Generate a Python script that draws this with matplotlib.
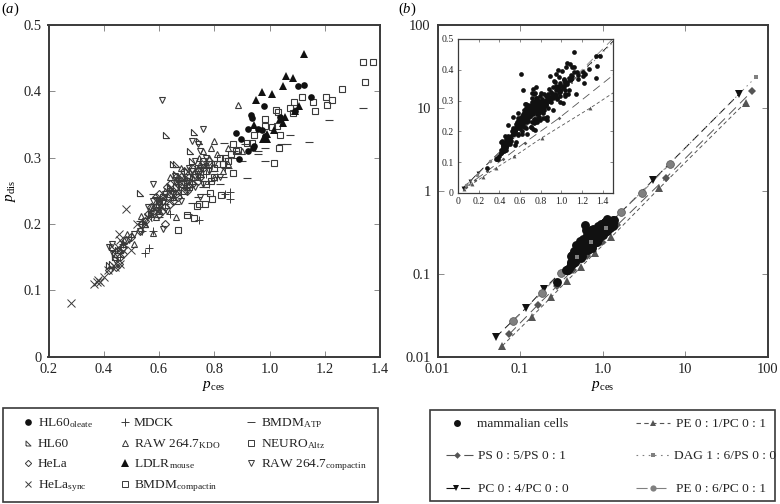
import matplotlib
matplotlib.use('Agg')
import matplotlib.pyplot as plt
from matplotlib.patches import Rectangle

plt.rcParams['font.family'] = ['Liberation Serif', 'DejaVu Serif']
plt.rcParams['mathtext.fontset'] = 'custom'
plt.rcParams['mathtext.rm'] = 'Liberation Serif'
plt.rcParams['mathtext.it'] = 'Liberation Serif:italic'
plt.rcParams['mathtext.bf'] = 'Liberation Serif:bold'

# panel (a), one (p_ces, p_dis) list per cell type
hl60_oleate = [(1.125,.41),(1.102,.4085),(1.149,.3915),(.979,.3775),(.932,.3635),(.936,.359),(.921,.3435),
    (.96,.3435),(.972,.3415),(.879,.3375),(.896,.3285),(.942,.315),(.944,.3175),(.921,.3095),(.889,.298),
    (1.038,.3615),(1.093,.37),(.984,.3325)]
hl60 = [(.53,.2465),(.625,.334),(.725,.3385),(.713,.31),(.66,.29),(.65,.29),(.42,.138),(.43,.14),(.44,.155),
    (.45,.16),(.46,.16),(.43,.165),(.44,.15),(.55,.2),(.57,.215),(.6,.23),(.64,.255),(.68,.27),(.7,.28),
    (.66,.275),(.72,.295),(.743,.325)]
hela = [(.42,.13),(.445,.135),(.455,.14),(.46,.15),(.47,.155),(.47,.165),(.48,.175),(.5,.18),(.53,.19),(.54,.2),
    (.55,.205),(.56,.215),(.58,.22),(.59,.225),(.6,.215),(.61,.235),(.62,.2),(.62,.225),(.63,.24),(.64,.23),
    (.65,.25),(.66,.245),(.67,.26),(.68,.255),(.7,.265),(.71,.27),(.72,.26),(.73,.275),(.74,.28),(.75,.27),
    (.57,.225),(.59,.24),(.6,.245),(.61,.22),(.63,.255),(.64,.26),(.66,.27),(.68,.27),(.69,.28),(.7,.25),
    (.72,.285),(.74,.265),(.76,.285),(.78,.295),(.67,.24),(.65,.235)]
hela_sync = [(.28,.08),(.365,.11),(.375,.112),(.38,.115),(.40,.12),(.415,.13),(.44,.135),(.455,.185),(.48,.222),
    (.50,.16),(.46,.14),(.385,.112),(.46,.175),(.52,.20),(.45,.165),(.47,.17),(.56,.21),(.6,.235),(.62,.24)]
mdck = [(.857,.2375),(.857,.2475),(.84,.245),(.746,.2055),(.562,.164),(.55,.156),(.58,.19),(.6,.225),(.62,.23),
    (.65,.24),(.68,.245),(.7,.255),(.72,.26),(.75,.27),(.78,.26),(.81,.27),(.57,.21),(.54,.19),(.5,.18),
    (.47,.17),(.46,.15),(.64,.215),(.77,.275),(.84,.285),(.63,.25)]
raw_kdo = [(.886,.38),(.80,.325),(.79,.315),(.76,.31),(.745,.30),(.85,.315),(.81,.305),(.57,.215),(.58,.187),
    (.46,.16),(.475,.175),(.485,.185),(.51,.17),(.535,.212),(.55,.2),(.58,.225),(.6,.235),(.66,.21),(.65,.24),
    (.67,.25),(.71,.26),(.69,.27),(.74,.285),(.77,.29),(.8,.27),(.83,.28),(.85,.29),(.9,.31),(.66,.265),
    (.62,.25),(.64,.27),(.68,.285),(.72,.27),(.75,.29),(.78,.3),(.6,.22),(.59,.21)]
ldlr_mouse = [(1.125,.457),(1.059,.4225),(1.084,.42),(1.048,.4085),(.972,.3985),(1.008,.396),(.95,.3865),
    (1.105,.3785),(1.093,.371),(1.056,.3615),(1.038,.3585),(1.05,.3525),(.944,.349),(1.017,.3415),(.99,.335),
    (.978,.3275),(.99,.3285)]
bmdm_compactin = [(1.338,.4435),(1.374,.4445),(1.346,.4135),(1.264,.4035),(1.205,.3915),(1.225,.3875),(1.207,.3795),
    (1.166,.3705),(1.157,.384),(1.118,.3915),(1.09,.384),(1.075,.375),(1.084,.3675),(1.023,.3715),(1.03,.3685),
    (.985,.3585),(.982,.3475),(1.008,.3465),(1.026,.3475),(.944,.3335),(1.038,.3335),(1.034,.314),(1.018,.2925),
    (.869,.321),(.92,.3225),(.936,.3215),(.887,.311),(.867,.2775)]
bmdm_atp = [(1.338,.3745),(1.216,.357),(1.143,.323),(1.075,.3335),(1.062,.3205),(1.04,.32),(.984,.314),(.984,.295),
    (.96,.305),(.918,.269),(.9,.295),(.87,.31),(.836,.3225),(.91,.32),(.88,.30),(.85,.285),(.83,.27),(.79,.265),
    (.77,.245),(.72,.232),(.705,.215),(.66,.23),(.59,.24),(.58,.245),(.575,.23),(.6,.21),(.54,.2),(.53,.205),
    (.85,.3),(.82,.26),(.76,.255),(.8,.28),(.74,.24),(.96,.31)]
neuro_altz = [(.668,.191),(.703,.214),(.725,.209),(.768,.23),(.746,.23),(.737,.2265),(.791,.238),(.826,.243),(.783,.246),
    (.6,.235),(.615,.24),(.64,.245),(.66,.255),(.68,.26),(.7,.27),(.72,.28),(.74,.285),(.76,.295),(.78,.29),
    (.8,.285),(.82,.3),(.84,.3),(.86,.305),(.88,.31),(.8,.27),(.79,.265),(.77,.26),(.75,.275),
    (.71,.255),(.73,.27),(.77,.28),(.81,.29),(.83,.29),(.69,.25),(.85,.295)]
raw_compactin = [(.6125,.3865),(.758,.3435),(.72,.325),(.74,.32),(.75,.31),(.77,.29),(.616,.192),(.58,.26),(.66,.262),
    (.658,.2725),(.7,.265),(.72,.28),(.74,.27),(.76,.26),(.78,.28),(.8,.29),(.82,.27),(.7,.25),(.65,.245),(.6,.23),
    (.57,.215),(.55,.205),(.53,.19),(.51,.185),(.49,.175),(.47,.16),(.43,.17),(.42,.165),(.435,.155),(.44,.145),
    (.63,.22),(.73,.255),(.75,.24),(.68,.235),(.62,.245),(.64,.25),(.67,.265),(.69,.26),(.71,.285),(.73,.295),
    (.75,.28),(.77,.3),(.6,.22),(.56,.225),(.58,.235)]

# panel (b), model lines
pc04 = [(.051,.0172),(.117,.038),(.197,.0658),(4.12,1.35),(45.3,14.7)]
ps05 = [(.0738,.0185),(.164,.0418),(.281,.0708),(.436,.11),(.644,.163),(.977,.243),(1.51,.385),(5.87,1.43),(64.6,15.8)]
pe01 = [(.0612,.0135),(.139,.0302),(.238,.0518),(.369,.0815),(.545,.119),(.811,.179),(1.28,.276),(4.87,1.07),(54.2,11.6)]
dag16 = [(.487,.16),(.731,.239),(1.1,.358),(71.6,23.3)]
pe06 = [(.0818,.0268),(.184,.0588),(.314,.103),(1.67,.558),(2.98,.947),(6.56,2.1)]

x_ticks_a = [0.2, 0.4, 0.6, 0.8, 1.0, 1.2, 1.4]
y_ticks_a = [0, 0.1, 0.2, 0.3, 0.4, 0.5]
ticks_b = [0.01, 0.1, 1, 10, 100]
x_labels_b = ['0.01', '0.1', '1.0', '10', '100']
y_labels_b = ['0.01', '0.1', '1', '10', '100']
x_ticks_inset = [0, 0.2, 0.4, 0.6, 0.8, 1.0, 1.2, 1.4]
y_ticks_inset = [0, 0.1, 0.2, 0.3, 0.4, 0.5]

W, H = 780.0, 504.0
DARK = '#3a3a3a'
right_tri = [(-1, -1), (1, -1), (-1, 1), (-1, -1)]


def px_axes(left, top, right, bottom):
    return fig.add_axes([left / W, 1 - bottom / H, (right - left) / W, (bottom - top) / H])


def style(ax, width=1.4, size=4, labelsize=10.4):
    for s in ax.spines.values():
        s.set_linewidth(width)
        s.set_color(DARK)
    ax.tick_params(which='both', direction='in', top=True, right=True, length=size, width=0.6,
                   color='#777777', labelsize=labelsize, pad=5, labelcolor='#222222')
    ax.minorticks_off()


def xs(p):
    return [v[0] for v in p]


def ys(p):
    return [v[1] for v in p]


fig = plt.figure(figsize=(7.8, 5.04), dpi=100)

# (a)
ax = px_axes(48.5, 25, 380, 356.5)
open_style = dict(linestyle='none', markerfacecolor='none', markeredgecolor=DARK, markeredgewidth=0.8, markersize=4.8)
for pts, m in [(bmdm_compactin, 's'), (neuro_altz, 's'), (raw_compactin, 'v'), (raw_kdo, '^'), (hl60, right_tri), (hela, 'D')]:
    kw = dict(open_style)
    if m == 'D':
        kw['markersize'] = 3.8
    if m is right_tri:
        kw['markersize'] = 4.4
    ax.plot(xs(pts), ys(pts), marker=m, **kw)
ax.plot(xs(hela_sync), ys(hela_sync), 'x', color=DARK, mew=0.7, ms=5.5)
ax.plot(xs(mdck), ys(mdck), '+', color=DARK, mew=0.7, ms=5.5)
ax.plot(xs(bmdm_atp), ys(bmdm_atp), '_', color=DARK, mew=0.8, ms=5.5)
ax.plot(xs(hl60_oleate), ys(hl60_oleate), 'o', color='#111111', ms=4.8, mew=0)
ax.plot(xs(ldlr_mouse), ys(ldlr_mouse), '^', color='#111111', ms=5.4, mew=0)
ax.set_xlim(0.2, 1.4)
ax.set_ylim(0, 0.5)
ax.set_xticks(x_ticks_a)
ax.set_xticklabels(['%.1f' % t for t in x_ticks_a])
ax.set_yticks(y_ticks_a)
ax.set_yticklabels(['0', '0.1', '0.2', '0.3', '0.4', '0.5'])
style(ax)
ax.set_xlabel(r'$p_{\mathrm{ces}}$', fontsize=11, labelpad=2)
ax.set_ylabel(r'$p_{\mathrm{dis}}$', fontsize=11, labelpad=4)
fig.text(1 / W, 1 - 13 / H, '($a$)', fontsize=10.5, va='baseline')

# all cells together for (b)
all_cells = hl60_oleate + hl60 + hela + hela_sync + mdck + raw_kdo + ldlr_mouse + bmdm_compactin + bmdm_atp + neuro_altz + raw_compactin

line_series = [
    (pc04, 'v', '#111111', (8, 5), 'PC 0 : 4/PC 0 : 0', 6.2),
    (ps05, 'D', '#555555', (10, 6), 'PS 0 : 5/PS 0 : 1', 4.2),
    (pe01, '^', '#555555', (4, 3), 'PE 0 : 1/PC 0 : 1', 6.2),
    (dag16, 's', '#808080', (1.5, 4), 'DAG 1 : 6/PS 0 : 0', 3.4),
    (pe06, 'o', '#808080', (10, 7), 'PE 0 : 6/PC 0 : 1', 5.6),
]

# (b)
bx = px_axes(437.5, 25, 767.5, 356.5)
for pts, m, c, d, lab, ms in line_series:
    bx.plot(xs(pts), ys(pts), color=c, lw=0.7, dashes=d, zorder=2)
    if m == 's':
        bx.plot(xs(pts), ys(pts), m, color=c, ms=ms, mew=0, zorder=4)
    elif m == 'o':
        bx.plot(xs(pts), ys(pts), m, color=c, ms=ms, mew=0.5, mec='#555555', zorder=2.5)
    else:
        bx.plot(xs(pts), ys(pts), m, color=c, ms=ms, mew=0, zorder=2.5)
bx.plot(xs(all_cells), ys(all_cells), 'o', color='#111111', ms=6.4, mew=0, zorder=3)
bx.set_xscale('log')
bx.set_yscale('log')
bx.set_xlim(0.01, 100)
bx.set_ylim(0.01, 100)
bx.set_xticks(ticks_b)
bx.set_xticklabels(x_labels_b)
bx.set_yticks(ticks_b)
bx.set_yticklabels(y_labels_b)
style(bx)
bx.set_xlabel(r'$p_{\mathrm{ces}}$', fontsize=11, labelpad=2)
fig.text(398 / W, 1 - 13 / H, '($b$)', fontsize=10.5, va='baseline')

# inset
ix = px_axes(458, 39, 613, 193)
for pts, m, c, d, lab, ms in line_series:
    ix.plot(xs(pts), ys(pts), color=c, lw=0.6, dashes=d)
    ix.plot(xs(pts), ys(pts), m, color=c, ms=ms * 0.45, mew=0)
ix.plot(xs(all_cells), ys(all_cells), 'o', color='#111111', ms=3.4, mew=0)
ix.set_xlim(0, 1.5)
ix.set_ylim(0, 0.5)
ix.set_xticks(x_ticks_inset)
ix.set_xticklabels(['0', '0.2', '0.4', '0.6', '0.8', '1.0', '1.2', '1.4'])
ix.set_yticks(y_ticks_inset)
ix.set_yticklabels(['0', '0.1', '0.2', '0.3', '0.4', '0.5'])
style(ix, width=0.9, size=2.5, labelsize=7)
ix.tick_params(pad=3)

# legend boxes, pixel coordinates of the picture
lx = fig.add_axes([0, 0, 1, 1])
lx.set_xlim(0, W)
lx.set_ylim(H, 0)
lx.axis('off')
lx.patch.set_alpha(0)
lx.add_patch(Rectangle((3, 408), 375, 94, fill=False, edgecolor=DARK, linewidth=1.2))
lx.add_patch(Rectangle((430, 410), 345, 91, fill=False, edgecolor=DARK, linewidth=1.2))

legend_a = [
    (28, 37.5, 422, 'o', True, 4.8, 'HL60$_{\\mathrm{oleate}}$'),
    (28, 37.5, 443, right_tri, False, 3.6, 'HL60'),
    (28, 37.5, 463, 'D', False, 3.2, 'HeLa'),
    (28, 37.5, 484, 'x', False, 5, 'HeLa$_{\\mathrm{sync}}$'),
    (125, 134, 422, '+', False, 5.5, 'MDCK'),
    (125, 134, 443, '^', False, 4.4, 'RAW 264.7$_{\\mathrm{KDO}}$'),
    (125, 134, 463, '^', True, 5.2, 'LDLR$_{\\mathrm{mouse}}$'),
    (125, 134, 484, 's', False, 4.2, 'BMDM$_{\\mathrm{compactin}}$'),
    (251, 261, 422, '_', False, 5.5, 'BMDM$_{\\mathrm{ATP}}$'),
    (251, 261, 443, 's', False, 4.2, 'NEURO$_{\\mathrm{Altz}}$'),
    (251, 261, 463, 'v', False, 4.4, 'RAW 264.7$_{\\mathrm{compactin}}$'),
]
for mx, tx, y, m, filled, ms, lab in legend_a:
    if filled:
        lx.plot([mx], [y], m, color='#111111', ms=ms, mew=0)
    else:
        lx.plot([mx], [y], marker=m, linestyle='none', mfc='none', mec=DARK, mew=0.7, ms=ms, color=DARK)
    lx.text(tx, y + 4, lab, fontsize=9.6, va='baseline', color='#222222')

lx.plot([457], [423], 'o', color='#111111', ms=5, mew=0)
lx.text(477, 427, 'mammalian cells', fontsize=9.6, va='baseline', color='#222222')
legend_b = [
    (446, 473, 457, 478, 455, line_series[1]),
    (446, 473, 456, 478, 488, line_series[0]),
    (636, 670, 653, 676, 423, line_series[2]),
    (636, 670, 653, 674, 455, line_series[3]),
    (636, 670, 653, 676, 488, line_series[4]),
]
for x0, x1, mx, tx, y, (pts, m, c, d, lab, ms) in legend_b:
    lx.plot([x0, x1], [y, y], color=c, lw=0.8, dashes=d)
    lx.plot([mx], [y], m, color=c, ms=ms * 0.8, mew=0)
    lx.text(tx, y + 4, lab, fontsize=9.6, va='baseline', color='#222222')

plt.savefig('out.png', dpi=100)
